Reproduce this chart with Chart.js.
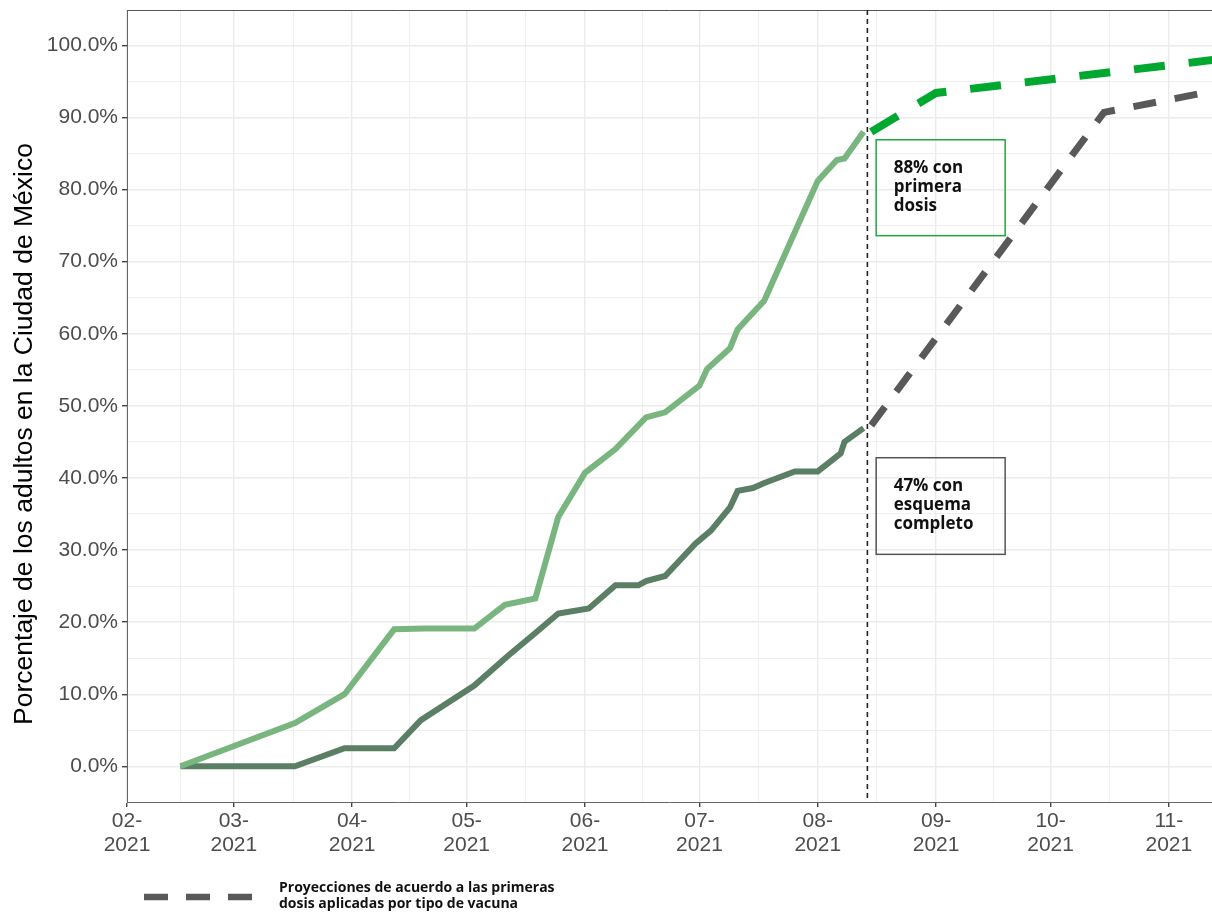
<!DOCTYPE html>
<html>
  <head>
    <meta charset="utf-8">
    <title>Vacunación Ciudad de México</title>
    <script src="https://cdn.jsdelivr.net/npm/chart.js"></script>
    <style>
    body { margin: 0; background: #fff; }
    #wrap { width: 1212px; height: 912px; }
  </style>
  </head>
  <body>
    <div id="wrap"><canvas id="vacunas" width="1212" height="912"></canvas></div>
    <script>
    // Porcentaje de adultos vacunados
    const fechasPrimera = ['2021-02-15', '2021-03-17', '2021-03-30', '2021-04-12', '2021-04-20', '2021-05-03',
      '2021-05-11', '2021-05-19', '2021-05-25', '2021-06-01', '2021-06-09', '2021-06-17', '2021-06-22',
      '2021-07-01', '2021-07-03', '2021-07-09', '2021-07-11', '2021-07-18', '2021-07-26', '2021-08-01',
      '2021-08-06', '2021-08-08', '2021-08-13'];
    const primeraDosis = [0, 6.0, 10.0, 19.0, 19.1, 19.1, 22.4, 23.3, 34.6, 40.7, 44.0, 48.4, 49.1,
      52.8, 55.1, 58.0, 60.6, 64.6, 74.1, 81.2, 84.1, 84.3, 88.0];

    const fechasCompleto = ['2021-02-15', '2021-03-17', '2021-03-30', '2021-04-12', '2021-04-19', '2021-05-03',
      '2021-05-12', '2021-05-19', '2021-05-25', '2021-06-02', '2021-06-09', '2021-06-15', '2021-06-17',
      '2021-06-22', '2021-06-30', '2021-07-04', '2021-07-09', '2021-07-11', '2021-07-15', '2021-07-18',
      '2021-07-26', '2021-08-01', '2021-08-07', '2021-08-08', '2021-08-13'];
    const esquemaCompleto = [0, 0, 2.5, 2.5, 6.4, 11.2, 15.4, 18.5, 21.2, 21.9, 25.1, 25.1, 25.7,
      26.4, 30.9, 32.7, 35.9, 38.2, 38.6, 39.3, 40.9, 40.9, 43.4, 45.0, 46.9];

    // Proyecciones
    const fechasProyPrimera = ['2021-08-15', '2021-09-01', '2021-11-13'];
    const proyPrimera = [88.0, 93.4, 98.0];
    const fechasProyCompleto = ['2021-08-15', '2021-10-15', '2021-11-13'];
    const proyCompleto = [47.3, 90.7, 93.7];

    const fechaCorte = '2021-08-14';
    const meses = ['2021-02-01', '2021-03-01', '2021-04-01', '2021-05-01', '2021-06-01',
      '2021-07-01', '2021-08-01', '2021-09-01', '2021-10-01', '2021-11-01'];
    const ticksY = [0, 10, 20, 30, 40, 50, 60, 70, 80, 90, 100];

    const origen = Date.UTC(2021, 1, 1);
    function dia(s) {
      const p = s.split('-').map(Number);
      return (Date.UTC(p[0], p[1] - 1, p[2]) - origen) / 86400000;
    }
    function serie(fechas, valores) {
      return fechas.map((f, i) => ({ x: dia(f), y: valores[i] }));
    }

    const diasMes = meses.map(dia);
    const diasMenores = diasMes.slice(1).map((d, i) => (d + diasMes[i]) / 2);
    const xMax = 284.3;

    const fuenteEje = "'Liberation Sans', Arial, sans-serif";
    const fuenteNota = "'Open Sans', sans-serif";

    const cajas = [
      { x0: dia('2021-08-16') + 0.3, x1: dia('2021-09-19') + 0.1, y0: 86.9, y1: 73.6, color: '#1fa83a',
        lineas: ['88% con', 'primera', 'dosis'] },
      { x0: dia('2021-08-16') + 0.3, x1: dia('2021-09-19') + 0.1, y0: 42.8, y1: 29.4, color: '#555555',
        lineas: ['47% con', 'esquema', 'completo'] }
    ];

    const extras = {
      id: 'extras',
      afterDatasetsDraw(chart) {
        const { ctx, chartArea, scales } = chart;
        ctx.save();
        // borde superior del panel
        ctx.strokeStyle = '#555';
        ctx.lineWidth = 1;
        ctx.beginPath();
        ctx.moveTo(chartArea.left, chartArea.top + 0.5);
        ctx.lineTo(chartArea.right, chartArea.top + 0.5);
        ctx.stroke();

        // línea de corte
        const xc = scales.x.getPixelForValue(dia(fechaCorte));
        ctx.strokeStyle = '#222';
        ctx.lineWidth = 1.6;
        ctx.setLineDash([5, 4]);
        ctx.beginPath();
        ctx.moveTo(xc, chartArea.top);
        ctx.lineTo(xc, chartArea.bottom);
        ctx.stroke();
        ctx.setLineDash([]);

        // cajas de texto
        cajas.forEach((c) => {
          const l = scales.x.getPixelForValue(c.x0);
          const r = scales.x.getPixelForValue(c.x1);
          const t = scales.y.getPixelForValue(c.y0);
          const b = scales.y.getPixelForValue(c.y1);
          ctx.strokeStyle = c.color;
          ctx.lineWidth = 1.5;
          ctx.strokeRect(l, t, r - l, b - t);
          ctx.fillStyle = '#111';
          ctx.font = 'bold 17px ' + fuenteNota;
          ctx.textBaseline = 'middle';
          ctx.textAlign = 'left';
          c.lineas.forEach((txt, i) => ctx.fillText(txt, l + 17.5, t + 28.5 + i * 19));
        });
        ctx.restore();
      },
      afterDraw(chart) {
        const { ctx } = chart;
        ctx.save();
        // título del eje y
        ctx.translate(25, 434);
        ctx.rotate(-Math.PI / 2);
        ctx.fillStyle = '#000';
        ctx.font = '26.5px ' + fuenteEje;
        ctx.textAlign = 'center';
        ctx.textBaseline = 'middle';
        ctx.fillText('Porcentaje de los adultos en la Ciudad de México', 0, 0);
        ctx.restore();

        // leyenda de proyecciones
        ctx.save();
        ctx.strokeStyle = '#595959';
        ctx.lineWidth = 6.5;
        ctx.setLineDash([24, 18]);
        ctx.beginPath();
        ctx.moveTo(144, 897);
        ctx.lineTo(252, 897);
        ctx.stroke();
        ctx.setLineDash([]);
        ctx.fillStyle = '#111';
        ctx.font = 'bold 14px ' + fuenteNota;
        ctx.textBaseline = 'middle';
        ctx.fillText('Proyecciones de acuerdo a las primeras', 279, 888);
        ctx.fillText('dosis aplicadas por tipo de vacuna', 279, 904);
        ctx.restore();
      }
    };

    const ctx = document.getElementById('vacunas').getContext('2d');
    new Chart(ctx, {
      type: 'line',
      data: {
        datasets: [
          {
            label: 'Primera dosis',
            data: serie(fechasPrimera, primeraDosis),
            borderColor: '#79b67f',
            borderWidth: 6,
            pointRadius: 0,
            tension: 0
          },
          {
            label: 'Esquema completo',
            data: serie(fechasCompleto, esquemaCompleto),
            borderColor: '#5b7f65',
            borderWidth: 6,
            pointRadius: 0,
            tension: 0
          },
          {
            label: 'Proyección primera dosis',
            data: serie(fechasProyPrimera, proyPrimera),
            borderColor: '#00a82f',
            borderWidth: 8,
            borderDash: [31, 24],
            pointRadius: 0,
            tension: 0
          },
          {
            label: 'Proyección esquema completo',
            data: serie(fechasProyCompleto, proyCompleto),
            borderColor: '#595959',
            borderWidth: 7,
            borderDash: [23, 19],
            pointRadius: 0,
            tension: 0
          }
        ]
      },
      options: {
        responsive: false,
        animation: false,
        devicePixelRatio: 1,
        layout: { padding: { top: 10, right: 0, bottom: 0, left: 0 } },
        plugins: { legend: { display: false }, tooltip: { enabled: false } },
        scales: {
          x: {
            type: 'linear',
            min: 0,
            max: xMax,
            afterFit: (s) => { s.height = 110; },
            afterBuildTicks: (s) => {
              s.ticks = diasMes.concat(diasMenores).filter((v) => v <= xMax)
                .sort((a, b) => a - b).map((v) => ({ value: v }));
            },
            ticks: {
              autoSkip: false,
              maxRotation: 0,
              minRotation: 0,
              padding: 2,
              color: '#4d4d4d',
              font: { family: fuenteEje, size: 21, lineHeight: 1.15 },
              callback: (v) => {
                const i = diasMes.indexOf(v);
                if (i < 0) return '';
                return [meses[i].slice(5, 7) + '-', meses[i].slice(0, 4)];
              }
            },
            grid: {
              color: '#ebebeb',
              lineWidth: (c) => (diasMes.includes(c.tick.value) ? 1.4 : 0.8),
              tickColor: (c) => (diasMes.includes(c.tick.value) ? '#444' : 'rgba(0,0,0,0)'),
              tickLength: 5
            },
            border: { display: true, color: '#666', width: 1 }
          },
          y: {
            min: -4.95,
            max: 104.9,
            afterFit: (s) => { s.width = 127; },
            afterBuildTicks: (s) => {
              const t = [];
              for (let v = 0; v <= 100; v += 5) t.push({ value: v });
              s.ticks = t;
            },
            ticks: {
              autoSkip: false,
              padding: 4,
              color: '#4d4d4d',
              font: { family: fuenteEje, size: 21, lineHeight: 0.4 },
              callback: (v) => (ticksY.includes(v) ? v.toFixed(1) + '%' : '')
            },
            grid: {
              color: '#ebebeb',
              lineWidth: (c) => (ticksY.includes(c.tick.value) ? 1.4 : 0.8),
              tickColor: (c) => (ticksY.includes(c.tick.value) ? '#444' : 'rgba(0,0,0,0)'),
              tickLength: 5
            },
            border: { display: true, color: '#666', width: 1 }
          }
        }
      },
      plugins: [extras]
    });
  </script>
  </body>
</html>
